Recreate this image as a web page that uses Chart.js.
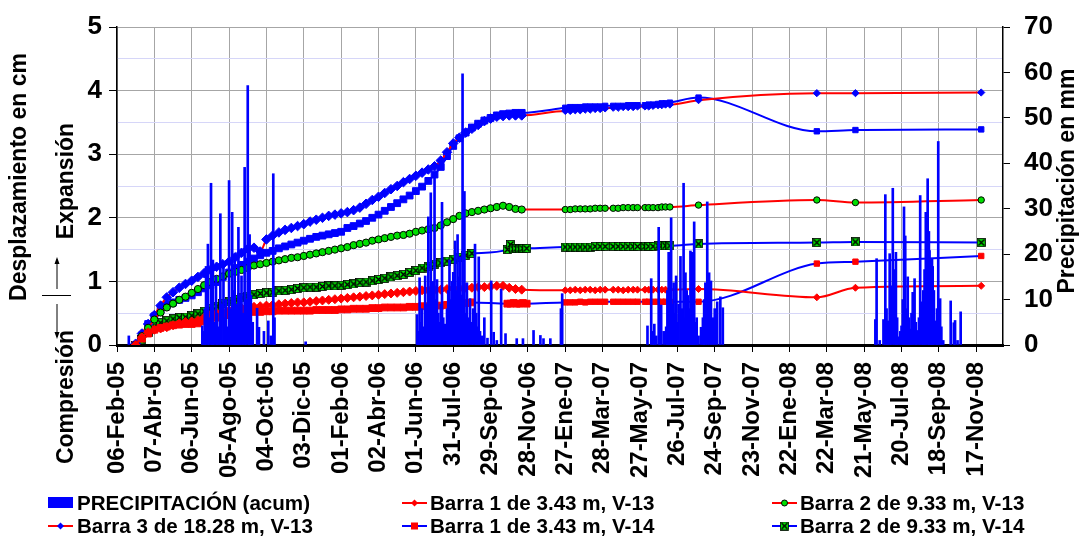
<!DOCTYPE html>
<html><head><meta charset="utf-8">
<script src="https://cdn.jsdelivr.net/npm/chart.js@4.4.1/dist/chart.umd.min.js"></script>
<style>html,body{margin:0;padding:0;background:#fff;overflow:hidden}#wrap{width:1082px;height:540px;position:relative}</style>
</head><body><div id="wrap"><canvas id="c" width="1082" height="540"></canvas></div>
<script>
// ---------- axis ticks ----------
const TICK_DAYS = [0,60,120,180,240,300,360,420,480,540,600,660,720,780,840,900,960,1020,1080,1140,1200,1260,1320,1380];
const TICK_LABELS = ["06-Feb-05","07-Abr-05","06-Jun-05","05-Ago-05","04-Oct-05","03-Dic-05","01-Feb-06","02-Abr-06","01-Jun-06","31-Jul-06","29-Sep-06","28-Nov-06","27-Ene-07","28-Mar-07","27-May-07","26-Jul-07","24-Sep-07","23-Nov-07","22-Ene-08","22-Mar-08","21-May-08","20-Jul-08","18-Sep-08","17-Nov-08"];
const Y_LEFT_TICKS = [0,0.5,1,1.5,2,2.5,3,3.5,4,4.5,5];
const Y_RIGHT_TICKS = [0,10,20,30,40,50,60,70];

// ---------- series labels ----------
const LABEL_PRECIP = "PRECIPITACIÓN (acum)";
const LABEL_B1V13 = "Barra 1 de 3.43 m, V-13";
const LABEL_B2V13 = "Barra 2 de 9.33 m, V-13";
const LABEL_B3V13 = "Barra 3 de 18.28 m, V-13";
const LABEL_B1V14 = "Barra 1 de 3.43 m, V-14";
const LABEL_B2V14 = "Barra 2 de 9.33 m, V-14";
const LABEL_B3V14 = "Barra 3 de 18.28 m, V-14";

// ---------- days since 06-Feb-05 ----------
const DENSE_DAYS = [30,40,50,60,70,80,90,100,110,120,130,140,150,160,170,180,190,200,210,220,230,240,250,260,270,280,290,300,310,320,330,340,350,360,370,380,390,400,410,420,430,440,450,460,470,480,490,500,510,520,530,540,550,560,570,580,590,600,610,620,630,640,650];
const MID_DAYS = [627,632,637,642,647,652,658];
const TAIL_DAYS = [720,728,736,744,752,760,768,776,784,797,805,813,821,829,836,848,854,861,869,875,881,888,934,1124,1186,1388];

// ---------- displacement (cm) ----------
const B1V13_DENSE = [0.00,0.12,0.20,0.24,0.26,0.28,0.31,0.34,0.36,0.37, 0.39,0.43,0.47,0.50,0.52,0.54,0.56,0.58,0.59,0.60, 0.61,0.62,0.63,0.64,0.65,0.66,0.67,0.67,0.68,0.69, 0.70,0.71,0.72,0.73,0.74,0.75,0.76,0.77,0.78,0.79, 0.80,0.81,0.82,0.83,0.84,0.85,0.86,0.86,0.87,0.87, 0.88,0.89,0.89,0.90,0.90,0.91,0.91,0.92,0.93,0.93, 0.90,0.88,0.87];
const B1V13_TAIL = [0.86,0.86,0.87,0.86,0.87,0.87,0.86,0.87,0.87, 0.87,0.87,0.86,0.87,0.87,0.87, 0.87,0.87,0.87, 0.87,0.87,0.87,0.87, 0.88,0.75,0.90,0.93];

const B2V13_DENSE = [0.00,0.14,0.27,0.40,0.51,0.59,0.65,0.71,0.76,0.82, 0.88,0.94,0.99,1.04,1.08,1.12,1.15,1.18,1.21,1.25, 1.27,1.29,1.31,1.33,1.35,1.37,1.38,1.40,1.42,1.44, 1.46,1.48,1.50,1.52,1.54,1.57,1.59,1.61,1.64,1.66, 1.68,1.70,1.72,1.73,1.75,1.78,1.80,1.82,1.84,1.88, 1.93,1.98,2.03,2.07,2.09,2.11,2.13,2.15,2.17,2.19, 2.17,2.14,2.13];
const B2V13_TAIL = [2.13,2.13,2.14,2.14,2.14,2.14,2.15,2.15,2.15, 2.15,2.15,2.16,2.16,2.16,2.16, 2.16,2.16,2.16, 2.16,2.17,2.17,2.17, 2.20,2.28,2.24,2.28];

const B3V13_DENSE = [0.02,0.18,0.33,0.47,0.62,0.75,0.83,0.90,0.96,1.01, 1.07,1.13,1.18,1.23,1.27,1.31,1.38,1.45,1.51,1.53, 1.47,1.66,1.72,1.77,1.81,1.84,1.87,1.90,1.94,1.97, 2.00,2.03,2.05,2.07,2.09,2.12,2.16,2.22,2.28,2.33, 2.39,2.45,2.50,2.56,2.61,2.66,2.71,2.76,2.81,2.90, 3.03,3.17,3.26,3.34,3.40,3.46,3.52,3.56,3.59,3.60, 3.61,3.61,3.61];
const B3V13_TAIL = [3.68,3.68,3.69,3.69,3.70,3.70,3.71,3.71,3.72, 3.73,3.73,3.74,3.74,3.74,3.75, 3.75,3.75,3.76, 3.77,3.77,3.78,3.78, 3.85,3.96,3.96,3.97];

const B1V14_DENSE = [0.00,0.10,0.18,0.24,0.27,0.29,0.31,0.32,0.33,0.33, 0.34,0.37,0.40,0.43,0.45,0.47,0.48,0.49,0.51,0.52, 0.52,0.53,0.53,0.54,0.54,0.54,0.54,0.54,0.54,0.55, 0.55,0.55,0.55,0.56,0.56,0.57,0.57,0.57,0.58,0.58, 0.59,0.59,0.59,0.59,0.60,0.60,0.61,0.61,0.62,0.62, 0.63,0.64,0.65,0.66,0.67,null,null,null,null,null, null,null,null];
const B1V14_MID = [0.65,0.65,0.66,0.65,0.65,0.66,0.65];
const B1V14_TAIL = [0.67,0.67,0.67,0.68,0.67,0.68,0.68,0.68,0.68, 0.68,0.68,0.68,0.68,0.68,0.68, 0.68,0.68,0.68, 0.68,0.68,0.68,0.68, 0.68,1.28,1.31,1.40];

const B2V14_DENSE = [0.00,0.08,0.20,0.30,0.35,0.38,0.41,0.43,0.44,0.46, 0.49,0.53,0.57,0.61,0.65,0.68,0.71,0.74,0.77,0.79, 0.81,0.82,0.83,0.85,0.86,0.87,0.89,0.90,0.91,0.91, 0.92,0.93,0.93,0.94,0.95,0.96,0.98,0.99,1.01,1.03, 1.05,1.07,1.09,1.11,1.14,1.17,1.21,1.24,1.27,1.29, 1.32,1.35,1.38,1.41,1.44,null,null,null,null,null, null,null,null];
const B2V14_MID = [1.50,1.58,1.51,1.52,1.51,1.52,1.52];
const B2V14_TAIL = [1.54,1.54,1.54,1.54,1.54,1.54,1.55,1.55,1.55, 1.55,1.55,1.55,1.55,1.55,1.55, 1.55,1.55,1.55, 1.56,1.56,1.56,1.56, 1.59,1.61,1.62,1.61];

const B3V14_DENSE = [0.00,0.15,0.33,0.45,0.55,0.63,0.67,0.71,0.74,0.78, 0.83,0.89,0.94,0.99,1.07,1.14,1.21,1.26,1.31,1.36, 1.41,1.45,1.48,1.52,1.55,1.58,1.61,1.64,1.67,1.70, 1.72,1.74,1.76,1.78,1.84,1.87,1.91,1.95,2.00,2.05, 2.11,2.17,2.23,2.29,2.35,2.42,2.49,2.58,2.68,2.80, 2.97,3.13,3.25,3.34,3.42,3.48,3.53,3.57,3.61,3.63, 3.64,3.65,3.65];
const B3V14_TAIL = [3.73,3.74,3.74,3.74,3.75,3.75,3.75,3.75,3.76, 3.76,3.76,3.76,3.77,3.77,3.77, 3.77,3.78,3.78, 3.79,3.80,3.80,3.81, 3.89,3.36,3.38,3.39];

// ---------- precipitation (mm) ----------
const PRECIP_DAYS = [19,137,139,141,143,146,148,151,153,154,156,159,161,163,166,168,171,173,175,177,180,182,185,187,189,191,193,195,197,200,202,205,207,210,212,213,215,218,225,228,236,243,247,251,253,303,
482,484,486,488,490,492,495,497,500,502,504,506,508,510,512,514,516,518,520,522,524,527,530,532,534,536,538,540,543,545,547,549,551,553,555,556,558,560,562,564,567,570,572,575,577,579,581,583,586,590,595,601,605,610,617,624,642,652,669,680,685,696,
713,715,852,858,861,863,866,870,872,874,878,882,884,886,888,890,892,894,896,898,900,902,905,907,910,911,913,915,917,919,921,923,925,927,929,931,934,938,941,943,945,948,951,954,957,960,964,969,973,
1218,1220,1225,1231,1234,1236,1238,1241,1243,1246,1249,1251,1253,1255,1258,1260,1262,1264,1266,1268,1270,1272,1274,1276,1278,1281,1283,1285,1288,1290,1293,1295,1297,1299,1302,1304,1305,1307,1309,1310,1312,1315,1317,1319,1322,1324,1327,1339,1344,1346,1350,1355];
const PRECIP_MM = [2.0,4.2,3.0,8.0,17.3,22.2,6.0,35.6,12.0,18.7,5.0,15.2,7.0,4.0,28.9,9.0,17.3,6.0,10.0,4.0,36.2,8.0,29.2,12.0,20.1,6.0,9.0,25.9,11.0,15.2,7.0,39.1,10.0,57.1,14.0,24.3,11.0,5.0,8.1,3.9,3.0,5.3,2.0,37.7,6.0,0.7,
6.7,3.0,14.8,5.0,8.0,4.0,15.2,9.0,28.2,12.0,33.5,8.0,14.0,37.8,10.0,14.4,7.0,5.0,9.0,31.4,6.0,4.6,8.0,12.0,18.7,10.0,14.0,16.0,22.9,12.0,24.3,15.0,19.4,11.0,59.7,9.0,33.8,7.0,13.7,6.0,10.2,5.0,8.0,22.2,7.0,4.0,19.4,3.0,2.0,6.0,1.5,14.1,2.8,1.0,12.3,2.5,1.4,1.4,3.2,2.1,1.4,1.4,
8.0,11.3,4.2,14.6,3.0,4.6,2.0,25.9,5.0,8.8,3.0,4.0,12.0,20.4,6.0,28.0,9.0,13.7,7.0,15.2,5.0,9.0,19.5,8.0,35.6,6.0,15.9,12.0,10.9,8.0,20.7,20.4,11.0,27.1,5.0,6.0,2.0,3.9,6.0,10.0,13.7,31.5,15.9,14.1,6.0,8.0,9.5,10.6,8.2,
5.6,19.0,1.0,5.6,33.1,8.0,5.3,20.1,13.0,34.5,16.6,20.4,6.0,1.8,3.0,4.2,10.0,30.4,24.0,8.0,15.0,6.0,3.5,7.0,11.6,14.6,5.0,3.2,6.0,32.9,9.5,12.0,16.6,29.2,36.6,25.0,20.8,18.7,19.0,17.3,12.0,5.3,8.0,44.8,10.2,4.0,1.0,9.7,4.9,5.4,1.0,7.3];

// ---------- helpers ----------
const FONT = "'Liberation Sans', Arial, Helvetica, sans-serif";
const RED = '#FF0000', BLUE = '#0000FF', GREEN = '#00E000';
function pts(days, vals) {
  const out = [];
  for (let i = 0; i < days.length; i++) if (vals[i] !== null && vals[i] !== undefined) out.push({x: days[i], y: vals[i]});
  return out;
}
function series(dense, mid, tail) {
  let a = pts(DENSE_DAYS, dense);
  if (mid) a = a.concat(pts(MID_DAYS, mid));
  return a.concat(pts(TAIL_DAYS, tail));
}
function xSquare() {
  const c = document.createElement('canvas'); c.width = 9; c.height = 9;
  const g = c.getContext('2d');
  g.fillStyle = GREEN; g.fillRect(0.5, 0.5, 8, 8);
  g.strokeStyle = '#000'; g.lineWidth = 1.4;
  g.beginPath(); g.moveTo(1.5, 1.5); g.lineTo(7.5, 7.5); g.moveTo(7.5, 1.5); g.lineTo(1.5, 7.5); g.stroke();
  g.lineWidth = 0.8; g.strokeRect(0.5, 0.5, 8, 8);
  return c;
}
const XSQ = xSquare();

function lineDs(label, data, lineColor, pStyle, pFill, pBorder, rDense, rSparse) {
  const radius = c => (c.raw && c.raw.x < 700 ? rDense : rSparse);
  return {
    type: 'line', label, data, yAxisID: 'y', xAxisID: 'x', order: 1,
    borderColor: lineColor, borderWidth: 2, cubicInterpolationMode: 'monotone',
    pointStyle: pStyle, pointRadius: radius, pointBackgroundColor: pFill, pointBorderColor: pBorder, pointBorderWidth: 1,
    pointHoverRadius: radius, fill: false
  };
}

const datasets = [
  { type: 'bar', label: LABEL_PRECIP, data: pts(PRECIP_DAYS, PRECIP_MM), yAxisID: 'y2', xAxisID: 'x', order: 0,
    backgroundColor: BLUE, borderWidth: 0, barThickness: 2, grouped: false },
  lineDs(LABEL_B1V13, series(B1V13_DENSE, null, B1V13_TAIL), RED, 'rectRot', RED, RED, 4.5, 3.5),
  lineDs(LABEL_B2V13, series(B2V13_DENSE, null, B2V13_TAIL), RED, 'circle', GREEN, '#000', 3.6, 3.2),
  lineDs(LABEL_B3V13, series(B3V13_DENSE, null, B3V13_TAIL), RED, 'rectRot', BLUE, BLUE, 4.8, 3.6),
  lineDs(LABEL_B1V14, series(B1V14_DENSE, B1V14_MID, B1V14_TAIL), BLUE, 'rect', RED, RED, 4.8, 3.8),
  lineDs(LABEL_B2V14, series(B2V14_DENSE, B2V14_MID, B2V14_TAIL), BLUE, XSQ, GREEN, '#000', 4, 4),
  lineDs(LABEL_B3V14, series(B3V14_DENSE, null, B3V14_TAIL), BLUE, 'rect', BLUE, BLUE, 4.8, 3.8)
];

// ---------- custom titles, arrows and legend ----------
function drawMarker(ctx, kind, x, y) {
  ctx.save();
  ctx.lineWidth = 1;
  if (kind === 'diamondRed' || kind === 'diamondBlue') {
    const c = kind === 'diamondRed' ? RED : BLUE;
    ctx.fillStyle = c; ctx.beginPath();
    ctx.moveTo(x, y - 3.5); ctx.lineTo(x + 3.5, y); ctx.lineTo(x, y + 3.5); ctx.lineTo(x - 3.5, y); ctx.closePath(); ctx.fill();
  } else if (kind === 'circleGreen') {
    ctx.fillStyle = GREEN; ctx.strokeStyle = '#000'; ctx.beginPath(); ctx.arc(x, y, 3, 0, Math.PI * 2); ctx.fill(); ctx.stroke();
  } else if (kind === 'squareRed') {
    ctx.fillStyle = RED; ctx.fillRect(x - 3.5, y - 3.5, 7, 7);
  } else if (kind === 'xsquare') {
    ctx.drawImage(XSQ, x - 4.5, y - 4.5);
  }
  ctx.restore();
}
const LEGEND_ITEMS = [
  {text: LABEL_PRECIP, kind: 'box'},
  {text: LABEL_B1V13, kind: 'diamondRed', line: RED},
  {text: LABEL_B2V13, kind: 'circleGreen', line: RED},
  {text: LABEL_B3V13, kind: 'diamondBlue', line: RED},
  {text: LABEL_B1V14, kind: 'squareRed', line: BLUE},
  {text: LABEL_B2V14, kind: 'xsquare', line: BLUE}
];
const decorPlugin = {
  id: 'decor',
  afterDraw(chart) {
    const ctx = chart.ctx;
    ctx.save();
    ctx.fillStyle = '#000';
    ctx.textAlign = 'center'; ctx.textBaseline = 'middle';
    ctx.font = 'bold 23px ' + FONT;
    const rot = (txt, x, y) => { ctx.save(); ctx.translate(x, y); ctx.rotate(-Math.PI / 2); ctx.fillText(txt, 0, 0); ctx.restore(); };
    rot('Desplazamiento en cm', 20, 177);
    rot('Expansión', 67, 181);
    rot('Compresión', 67, 397);
    rot('Precipitación en mm', 1068, 181);
    // arrows
    ctx.strokeStyle = '#000'; ctx.lineWidth = 1;
    ctx.beginPath();
    ctx.moveTo(57, 289); ctx.lineTo(57, 259);
    ctx.moveTo(42, 295.5); ctx.lineTo(71, 295.5);
    ctx.moveTo(57, 304); ctx.lineTo(57, 337);
    ctx.stroke();
    ctx.beginPath(); ctx.moveTo(57, 257); ctx.lineTo(54.5, 264); ctx.lineTo(59.5, 264); ctx.closePath(); ctx.fill();
    ctx.beginPath(); ctx.moveTo(57, 339); ctx.lineTo(54.5, 332); ctx.lineTo(59.5, 332); ctx.closePath(); ctx.fill();
    // legend
    const colLine = [48, 402, 772], colText = [77, 430, 800], rowY = [503, 526];
    ctx.font = 'bold 20.6px ' + FONT; ctx.textAlign = 'left';
    LEGEND_ITEMS.forEach((it, i) => {
      const c = i % 3, r = Math.floor(i / 3);
      const y = rowY[r];
      if (it.kind === 'box') {
        ctx.fillStyle = BLUE; ctx.fillRect(colLine[c], y - 6, 25, 11);
      } else {
        ctx.strokeStyle = it.line; ctx.lineWidth = 2;
        ctx.beginPath(); ctx.moveTo(colLine[c], y); ctx.lineTo(colLine[c] + 25, y); ctx.stroke();
        drawMarker(ctx, it.kind, colLine[c] + 12.5, y);
      }
      ctx.fillStyle = '#000';
      ctx.fillText(it.text, colText[c], y + 1);
    });
    ctx.restore();
  }
};

Chart.defaults.font.family = FONT;
Chart.defaults.color = '#000';

new Chart(document.getElementById('c'), {
  type: 'line',
  data: { datasets },
  plugins: [decorPlugin],
  options: {
    responsive: false, animation: false, events: [],
    layout: { padding: { top: 14, left: 0, right: 0, bottom: 0 } },
    plugins: { legend: { display: false }, tooltip: { enabled: false } },
    scales: {
      x: {
        type: 'linear', min: 0, max: 1423, offset: false,
        afterBuildTicks: s => { s.ticks = TICK_DAYS.map(v => ({ value: v })); },
        afterFit: s => { s.height = 195; },
        ticks: {
          autoSkip: false, minRotation: 90, maxRotation: 90, padding: 10,
          font: { size: 24, weight: 'bold', lineHeight: 1 },
          callback: v => { const i = TICK_DAYS.indexOf(v); return i >= 0 ? TICK_LABELS[i] : ''; }
        },
        grid: { color: '#A6A6A6', lineWidth: 1, tickColor: '#000', tickLength: 7, offset: false },
        border: { color: '#000', width: 3 }
      },
      y: {
        position: 'left', min: 0, max: 5,
        afterBuildTicks: s => { s.ticks = Y_LEFT_TICKS.map(v => ({ value: v })); },
        afterFit: s => { s.width = 117; },
        ticks: { padding: 7, font: { size: 26, weight: 'bold', lineHeight: 1 },
          callback: v => Number.isInteger(v) ? String(v) : '' },
        grid: {
          color: c => Number.isInteger(c.tick.value) ? '#A6A6A6' : '#D6D6F8',
          lineWidth: 1,
          tickColor: c => Number.isInteger(c.tick.value) ? '#000' : 'rgba(0,0,0,0)',
          tickLength: 8
        },
        border: { color: '#000', width: 1.5 }
      },
      y2: {
        position: 'right', min: 0, max: 70,
        afterBuildTicks: s => { s.ticks = Y_RIGHT_TICKS.map(v => ({ value: v })); },
        afterFit: s => { s.width = 79; },
        ticks: { padding: 14, font: { size: 26, weight: 'bold', lineHeight: 1 } },
        grid: { drawOnChartArea: false, tickColor: '#000', tickLength: 7 },
        border: { color: '#000', width: 1.5 }
      }
    }
  }
});
</script>
</body></html>
